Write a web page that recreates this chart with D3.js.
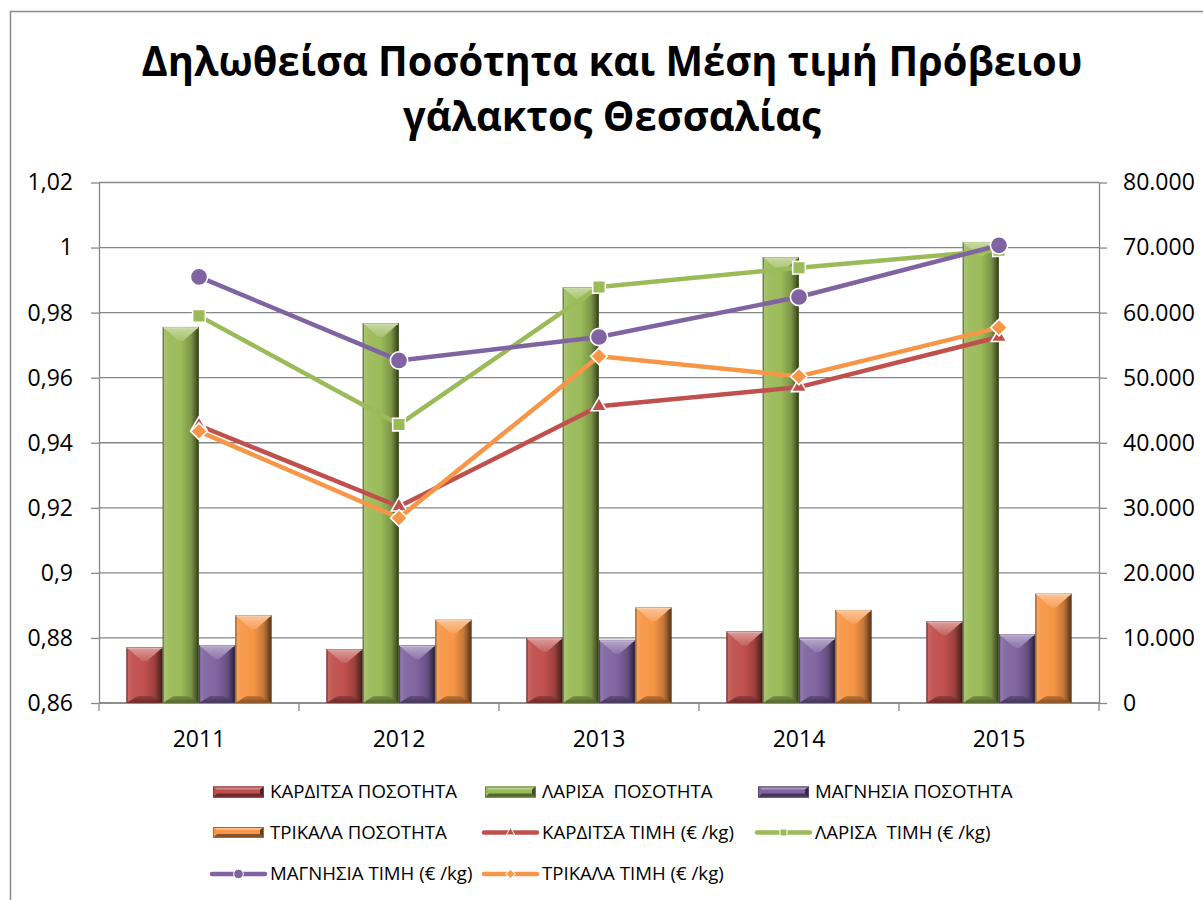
<!DOCTYPE html>
<html>
<head>
<meta charset="utf-8">
<script src="https://cdn.jsdelivr.net/npm/d3@7"></script>
<style>
  html, body { margin: 0; padding: 0; background: #fff; }
  svg { display: block; }
  text { font-family: "Open Sans", "Noto Sans", "DejaVu Sans", sans-serif; white-space: pre; }
</style>
</head>
<body>
<svg id="chart" width="1203" height="900"></svg>
<script>
// ---------- DATA ----------
const titleLines = ["Δηλωθείσα Ποσότητα και Μέση τιμή Πρόβειου", "γάλακτος Θεσσαλίας"];
const years = ["2011", "2012", "2013", "2014", "2015"];

const qtyNames = ["ΚΑΡΔΙΤΣΑ ΠΟΣΟΤΗΤΑ", "ΛΑΡΙΣΑ  ΠΟΣΟΤΗΤΑ", "ΜΑΓΝΗΣΙΑ ΠΟΣΟΤΗΤΑ", "ΤΡΙΚΑΛΑ ΠΟΣΟΤΗΤΑ"];
const karditsaQty = [8550, 8300, 10000, 11000, 12550];
const larisaQty   = [57800, 58400, 63900, 68550, 70860];
const magnesiaQty = [8900, 8860, 9700, 9940, 10600];
const trikalaQty  = [13500, 12800, 14700, 14300, 16800];

const priceNames = ["ΚΑΡΔΙΤΣΑ ΤΙΜΗ (€ /kg)", "ΛΑΡΙΣΑ  ΤΙΜΗ (€ /kg)", "ΜΑΓΝΗΣΙΑ ΤΙΜΗ (€ /kg)", "ΤΡΙΚΑΛΑ ΤΙΜΗ (€ /kg)"];
const karditsaPrice = [0.9453, 0.9204, 0.9512, 0.9571, 0.9725];
const larisaPrice   = [0.9790, 0.9456, 0.9879, 0.9938, 0.9992];
const magnesiaPrice = [0.9910, 0.9653, 0.9725, 0.9848, 1.0007];
const trikalaPrice  = [0.9435, 0.9169, 0.9666, 0.9604, 0.9754];

const leftTicks  = [0.86, 0.88, 0.90, 0.92, 0.94, 0.96, 0.98, 1.00, 1.02];
const leftLabels = ["0,86", "0,88", "0,9", "0,92", "0,94", "0,96", "0,98", "1", "1,02"];
const rightTicks  = [0, 10000, 20000, 30000, 40000, 50000, 60000, 70000, 80000];
const rightLabels = ["0", "10.000", "20.000", "30.000", "40.000", "50.000", "60.000", "70.000", "80.000"];

const seriesColors = ["#C0504D", "#9BBB59", "#8064A2", "#F79646"];
const markerTypes = ["triangle", "square", "circle", "diamond"];

// ---------- LAYOUT ----------
const svg = d3.select("#chart");
const plot = { left: 99, right: 1099, top: 182.5, bottom: 703 };
const gridColor = "#878787";

const qtyData = [karditsaQty, larisaQty, magnesiaQty, trikalaQty];
const priceData = [karditsaPrice, larisaPrice, magnesiaPrice, trikalaPrice];

const x0 = d3.scaleBand().domain(years).range([plot.left, plot.right]).paddingInner(0).paddingOuter(0);
const bw = x0.bandwidth();
const x1 = d3.scaleBand().domain(d3.range(4)).range([bw * 0.137, bw * 0.863]).padding(0);
const yL = d3.scaleLinear().domain([0.86, 1.02]).range([plot.bottom, plot.top]);
const yR = d3.scaleLinear().domain([0, 80000]).range([plot.bottom, plot.top]);

// outer chart border
svg.append("rect").attr("x", 10.5).attr("y", 11.5).attr("width", 1210).attr("height", 900)
  .attr("fill", "#fff").attr("stroke", "#8c8c8c").attr("stroke-width", 1.5);

// defs: gradients for bars
const defs = svg.append("defs");
function mix(c, target, t) {
  const a = d3.rgb(c), b = d3.rgb(target);
  return d3.rgb(a.r + (b.r - a.r) * t, a.g + (b.g - a.g) * t, a.b + (b.b - a.b) * t).formatHex();
}
seriesColors.forEach((c, i) => {
  const h = defs.append("linearGradient").attr("id", "hg" + i).attr("x1", 0).attr("x2", 1).attr("y1", 0).attr("y2", 0);
  [[0, mix(c, "#000", 0.45)], [0.05, mix(c, "#fff", 0.12)], [0.18, mix(c, "#fff", 0.05)], [0.5, c],
   [0.78, mix(c, "#000", 0.2)], [0.92, mix(c, "#000", 0.5)], [1, mix(c, "#000", 0.75)]]
    .forEach(([o, col]) => h.append("stop").attr("offset", o).attr("stop-color", col));
  const t = defs.append("linearGradient").attr("id", "tg" + i).attr("x1", 0).attr("x2", 0).attr("y1", 0).attr("y2", 1);
  [[0, mix(c, "#fff", 0.45)], [1, mix(c, "#fff", 0.1)]]
    .forEach(([o, col]) => t.append("stop").attr("offset", o).attr("stop-color", col));
  const b = defs.append("linearGradient").attr("id", "bg" + i).attr("x1", 0).attr("x2", 0).attr("y1", 0).attr("y2", 1);
  [[0, mix(c, "#000", 0.25)], [1, mix(c, "#000", 0.55)]]
    .forEach(([o, col]) => b.append("stop").attr("offset", o).attr("stop-color", col));
});

// gridlines
svg.append("g").selectAll("line").data(leftTicks).join("line")
  .attr("x1", plot.left).attr("x2", plot.right)
  .attr("y1", d => yL(d)).attr("y2", d => yL(d))
  .attr("stroke", gridColor).attr("stroke-width", 1.3);

// left axis
const gL = svg.append("g").attr("transform", `translate(${plot.left},0)`)
  .call(d3.axisLeft(yL).tickValues(leftTicks).tickFormat((d, i) => leftLabels[i]).tickSize(8).tickSizeOuter(0).tickPadding(18));
// right axis
const gR = svg.append("g").attr("transform", `translate(${plot.right},0)`)
  .call(d3.axisRight(yR).tickValues(rightTicks).tickFormat((d, i) => rightLabels[i]).tickSize(8).tickSizeOuter(0).tickPadding(16));
[gL, gR].forEach(g => {
  g.selectAll("path.domain").attr("stroke", gridColor).attr("stroke-width", 1.3);
  g.selectAll(".tick line").attr("stroke", gridColor).attr("stroke-width", 1.3);
  g.selectAll(".tick text").attr("font-size", 23).attr("fill", "#000")
    .attr("font-family", "'Open Sans', sans-serif");
});

// x axis: baseline, boundary ticks, labels
svg.append("line").attr("x1", plot.left).attr("x2", plot.right).attr("y1", plot.bottom).attr("y2", plot.bottom)
  .attr("stroke", gridColor).attr("stroke-width", 1.3);
const boundaries = years.map(y => x0(y)).concat([x0(years[years.length - 1]) + bw]);
svg.append("g").selectAll("line").data(boundaries).join("line")
  .attr("x1", d => d).attr("x2", d => d).attr("y1", plot.bottom).attr("y2", plot.bottom + 8)
  .attr("stroke", gridColor).attr("stroke-width", 1.3);
svg.append("g").selectAll("text").data(years).join("text")
  .attr("x", d => x0(d) + bw / 2).attr("y", 746.5)
  .attr("text-anchor", "middle").attr("font-size", 23).attr("fill", "#000").text(d => d);

// bars
function drawBar(g, x, y, w, h, i) {
  const bar = g.append("g");
  bar.append("rect").attr("x", x).attr("y", y).attr("width", w).attr("height", h)
    .attr("fill", `url(#hg${i})`);
  const d = Math.min(14, h / 2);
  bar.append("path")
    .attr("d", `M${x},${y} L${x + w},${y} L${x + w * 0.56},${y + d} L${x + w * 0.44},${y + d} Z`)
    .attr("fill", `url(#tg${i})`);
  const d2 = Math.min(7, h / 3);
  bar.append("path")
    .attr("d", `M${x},${y + h} L${x + w},${y + h} L${x + w - d2 * 1.6},${y + h - d2} L${x + d2 * 1.6},${y + h - d2} Z`)
    .attr("fill", `url(#bg${i})`).attr("opacity", 0.85);
  bar.append("rect").attr("x", x + 0.5).attr("y", y + 0.5).attr("width", w - 1).attr("height", h - 1)
    .attr("fill", "none").attr("stroke", mix(seriesColors[i], "#000", 0.35)).attr("stroke-width", 1).attr("opacity", 0.6);
  bar.append("line").attr("x1", x + 1).attr("x2", x + w - 1).attr("y1", y + 1).attr("y2", y + 1)
    .attr("stroke", mix(seriesColors[i], "#fff", 0.55)).attr("stroke-width", 1.2);
}
const barsG = svg.append("g");
years.forEach((yr, j) => {
  qtyData.forEach((arr, i) => {
    const x = x0(yr) + x1(i);
    const y = yR(arr[j]);
    drawBar(barsG, x, y, x1.bandwidth(), yR(0) - y, i);
  });
});

// markers
function markerPath(type, scale) {
  const s = scale || 1;
  if (type === "circle") return d3.symbol(d3.symbolCircle, 235 * s * s)();
  if (type === "square") return d3.symbol(d3.symbolSquare, 160 * s * s)();
  if (type === "triangle") return d3.symbol(d3.symbolTriangle, 105 * s * s)();
  return d3.symbol(d3.symbolSquare, 140 * s * s)();
}
function addMarker(g, type, cx, cy, color, scale) {
  g.append("path").attr("d", markerPath(type, scale))
    .attr("transform", `translate(${cx},${cy})` + (type === "diamond" ? " rotate(45)" : ""))
    .attr("fill", color).attr("stroke", "#fff").attr("stroke-width", scale && scale < 1 ? 1 : 1.6);
}

// lines
const line = d3.line().x((d, j) => x0(years[j]) + bw / 2).y(d => yL(d));
priceData.forEach((arr, i) => {
  const g = svg.append("g");
  g.append("path").attr("d", line(arr)).attr("fill", "none")
    .attr("stroke", seriesColors[i]).attr("stroke-width", 4.5).attr("stroke-linejoin", "round").attr("stroke-linecap", "round");
  arr.forEach((v, j) => addMarker(g, markerTypes[i], x0(years[j]) + bw / 2, yL(v), seriesColors[i]));
});

// title
const titleG = svg.append("g");
const titleY = [76, 131];
const titleCx = 612;
const tTexts = titleLines.map((t, k) => titleG.append("text")
  .attr("x", titleCx).attr("y", titleY[k]).attr("text-anchor", "middle")
  .attr("font-size", 41).attr("font-weight", "bold").attr("fill", "#000").text(t));
const tw0 = tTexts[0].node().getComputedTextLength();
const tk = 941 / tw0;
tTexts.forEach(t => {
  const w = t.node().getComputedTextLength();
  t.attr("textLength", w * tk).attr("lengthAdjust", "spacingAndGlyphs");
});

// legend
const legendItems = [
  { name: qtyNames[0], kind: "bar", i: 0 },
  { name: qtyNames[1], kind: "bar", i: 1 },
  { name: qtyNames[2], kind: "bar", i: 2 },
  { name: qtyNames[3], kind: "bar", i: 3 },
  { name: priceNames[0], kind: "line", i: 0 },
  { name: priceNames[1], kind: "line", i: 1 },
  { name: priceNames[2], kind: "line", i: 2 },
  { name: priceNames[3], kind: "line", i: 3 }
];
const legCols = [213, 485, 758];
const legRows = [792, 832.5, 874];
const legG = svg.append("g");
let legK = null;
legendItems.forEach((it, n) => {
  const col = n % 3, row = Math.floor(n / 3);
  const sx = legCols[col], cy = legRows[row];
  const c = seriesColors[it.i];
  if (it.kind === "bar") {
    const w = 51, h = 11, x = sx, y = cy - h / 2;
    legG.append("rect").attr("x", x).attr("y", y).attr("width", w).attr("height", h).attr("fill", c);
    legG.append("path").attr("d", `M${x},${y} L${x + w},${y} L${x + w - 4},${y + 3} L${x + 4},${y + 3} Z`)
      .attr("fill", mix(c, "#fff", 0.35));
    legG.append("path").attr("d", `M${x},${y + h} L${x + w},${y + h} L${x + w - 4},${y + h - 4} L${x + 4},${y + h - 4} Z`)
      .attr("fill", mix(c, "#000", 0.45));
    legG.append("path").attr("d", `M${x + w},${y} L${x + w},${y + h} L${x + w - 4},${y + h - 4} L${x + w - 4},${y + 3} Z`)
      .attr("fill", mix(c, "#000", 0.6));
    legG.append("rect").attr("x", x + 0.5).attr("y", y + 0.5).attr("width", w - 1).attr("height", h - 1)
      .attr("fill", "none").attr("stroke", mix(c, "#000", 0.3)).attr("stroke-width", 1);
  } else {
    legG.append("line").attr("x1", sx - 1).attr("x2", sx + 52).attr("y1", cy).attr("y2", cy)
      .attr("stroke", c).attr("stroke-width", 4.5).attr("stroke-linecap", "round");
    addMarker(legG, markerTypes[it.i], sx + 25.5, cy, c, 0.55);
  }
  const t = legG.append("text").attr("x", sx + 57).attr("y", cy + 6.3)
    .attr("font-size", 18.5).attr("fill", "#000").text(it.name);
  const w = t.node().getComputedTextLength();
  if (legK === null) legK = 187 / w;
  t.attr("textLength", w * legK).attr("lengthAdjust", "spacingAndGlyphs");
});
</script>
</body>
</html>
